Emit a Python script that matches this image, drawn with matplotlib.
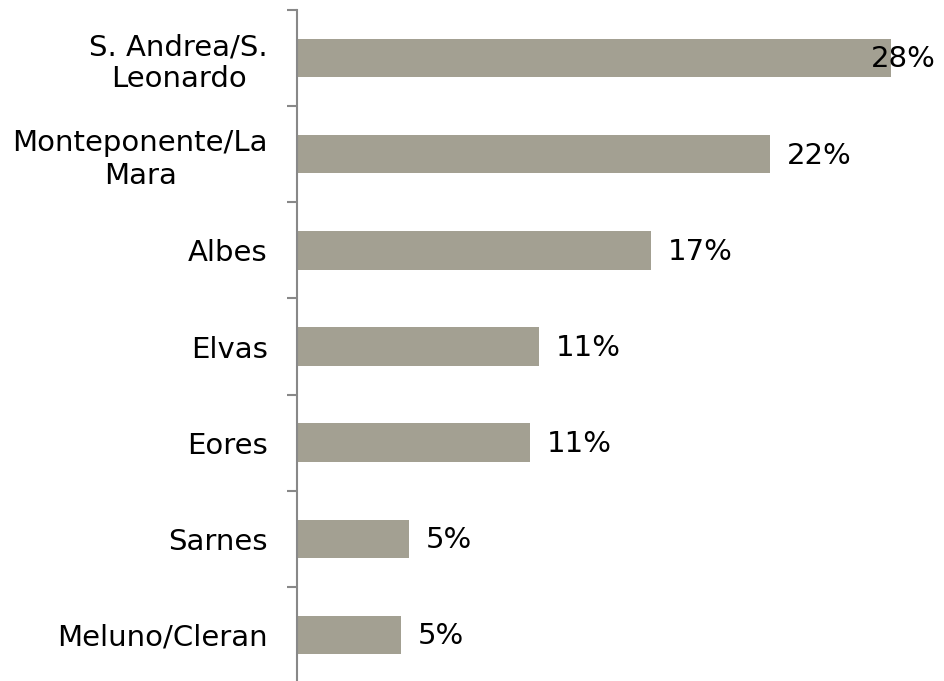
import matplotlib
matplotlib.use("Agg")
import matplotlib.pyplot as plt
import numpy as np

plt.rcParams["font.family"] = ["DejaVu Sans"]

categories = ["S. Andrea/S.\nLeonardo", "Monteponente/La\nMara", "Albes", "Elvas",
              "Eores", "Sarnes", "Meluno/Cleran"]
values = [28.0, 22.3, 16.7, 11.4, 11.0, 5.3, 4.9]
value_labels = ["28%", "22%", "17%", "11%", "11%", "5%", "5%"]

W, H = 945, 681
fig = plt.figure(figsize=(W / 100, H / 100), dpi=100)
left_px, right_px, top_px, bottom_px = 297, 945, 10, 683
ax = fig.add_axes([left_px / W, 1 - bottom_px / H, (right_px - left_px) / W,
                   (bottom_px - top_px) / H])

n = len(categories)
y = np.arange(n)
bar_color = "#A3A092"
ax.barh(y, values, height=0.4, color=bar_color, zorder=2)
ax.set_ylim(n - 0.5, -0.5)
px_per_unit = 21.2
ax.set_xlim(0, (right_px - left_px) / px_per_unit)

fs = 21
ax.set_yticks(y)
ax.set_yticklabels(categories, fontsize=fs, multialignment="center", color="black")
ax.tick_params(axis="y", which="major", length=0, pad=21)
ax.set_yticks(np.arange(-0.5, n, 1.0), minor=True)
ax.tick_params(axis="y", which="minor", length=7, width=1.5, color="#888888")
ax.set_xticks([])

for s in ["top", "right", "bottom"]:
    ax.spines[s].set_visible(False)
ax.spines["left"].set_color("#888888")
ax.spines["left"].set_linewidth(1.5)

vmax = max(values)
for yi, v, lab in zip(y, values, value_labels):
    dx = -14 if v == vmax else 12
    ax.annotate(lab, xy=(v, yi), xytext=(dx, -1), textcoords="offset points",
                va="center", ha="left", fontsize=fs, color="black", zorder=3)

fig.savefig("out.png", dpi=100)
